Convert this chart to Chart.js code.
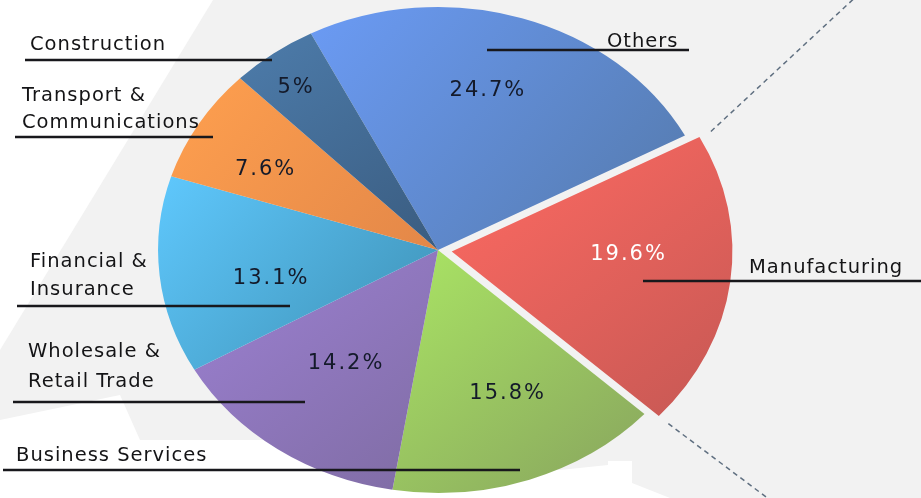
<!DOCTYPE html>
<html>
<head>
<meta charset="utf-8">
<script src="https://cdn.jsdelivr.net/npm/chart.js@4/dist/chart.umd.min.js"></script>
<style>
  html, body { margin: 0; padding: 0; background: #f2f2f2; }
  #wrap { width: 921px; height: 498px; }
</style>
</head>
<body>
<div id="wrap"><canvas id="c" width="921" height="498"></canvas></div>
<script>
// ---- data ----
const categories = ["Others", "Manufacturing", "Business Services", "Wholesale & Retail Trade",
                    "Financial & Insurance", "Transport & Communications", "Construction"];
const shares = [24.7, 19.6, 15.8, 14.2, 13.1, 7.6, 5];

// ---- styles ----
const lightColors = ['#6b9bf5', '#ff6a62', '#aae564', '#9d81d4', '#5fc8fd', '#ffa04f', '#4d7cab'];
const darkColors  = ['#5479aa', '#c25753', '#88a45e', '#7f6ca3', '#3d8fb2', '#e38748', '#3a5c80'];
const explode     = [0, 48, 0, 0, 0, 0, 0];
const pctFactor   = [0.69, 0.60, 0.63, 0.58, 0.61, 0.70, 0.85];
const pctNudge    = [[-8, 0], [2, -16], [12, -1], [1, -2], [3, 13], [-5, 8], [-2, 5]];
const pctColor    = ['#141a2a', '#ffffff', '#141a2a', '#141a2a', '#141a2a', '#141a2a', '#141a2a'];
// category label placement: text x, baseline of each line, underline x1, x2, y
const labelLayout = [
  {x: 607, base: [47],       ux1: 487, ux2: 689, uy: 50},
  {x: 749, base: [273],      ux1: 643, ux2: 921, uy: 281},
  {x: 16,  base: [461],      ux1: 3,   ux2: 520, uy: 470},
  {x: 28,  base: [357, 387], ux1: 13,  ux2: 305, uy: 402},
  {x: 30,  base: [267, 295], ux1: 17,  ux2: 290, uy: 306},
  {x: 22,  base: [101, 128], ux1: 15,  ux2: 213, uy: 137},
  {x: 30,  base: [50],       ux1: 25,  ux2: 272, uy: 60}
];
const STRETCH = 1.152;

function arcGeom(arc, i) {
  const p = arc.getProps(['x', 'y', 'startAngle', 'endAngle', 'outerRadius'], true);
  const t = (explode[i] || 0) / 4;
  const mid = (p.startAngle + p.endAngle) / 2;
  return {cx: p.x + Math.cos(mid) * t, cy: p.y + Math.sin(mid) * t, R: p.outerRadius + t,
          s: p.startAngle, e: p.endAngle, mid, x0: p.x};
}
function toScreen(x, y, x0) { return [x0 + (x - x0) * STRETCH, y]; }

const bgPlugin = {
  id: 'bg',
  beforeDraw(chart) {
    const ctx = chart.ctx;
    ctx.save();
    ctx.fillStyle = '#f2f2f2';
    ctx.fillRect(0, 0, chart.width, chart.height);
    ctx.fillStyle = '#ffffff';
    const polys = [
      [[0, 0], [213, 0], [0, 350]],
      [[0, 420], [120, 395], [140, 440], [300, 440], [560, 470], [608, 465], [608, 461], [632, 461], [632, 483], [670, 498], [0, 498]]
    ];
    polys.forEach(poly => {
      ctx.beginPath();
      poly.forEach((pt, k) => k ? ctx.lineTo(pt[0], pt[1]) : ctx.moveTo(pt[0], pt[1]));
      ctx.closePath();
      ctx.fill();
    });
    ctx.restore();
  }
};

const stretchPlugin = {
  id: 'stretch',
  beforeDatasetsDraw(chart) {
    const ctx = chart.ctx;
    const meta = chart.getDatasetMeta(0);
    meta.data.forEach((arc, i) => {
      const g = arcGeom(arc, i);
      const xs = [g.cx], ys = [g.cy];
      for (let k = 0; k <= 24; k++) {
        const a = g.s + (g.e - g.s) * k / 24;
        xs.push(g.cx + Math.cos(a) * g.R); ys.push(g.cy + Math.sin(a) * g.R);
      }
      const grad = ctx.createLinearGradient(Math.min(...xs), Math.min(...ys), Math.max(...xs), Math.max(...ys));
      grad.addColorStop(0, lightColors[i]);
      grad.addColorStop(1, darkColors[i]);
      arc.options.backgroundColor = grad;
    });
    const x0 = meta.data[0].x;
    ctx.save();
    ctx.translate(x0, 0); ctx.scale(STRETCH, 1); ctx.translate(-x0, 0);
  },
  afterDatasetsDraw(chart) {
    chart.ctx.restore();
  }
};

const labelPlugin = {
  id: 'labels',
  afterDraw(chart) {
    const ctx = chart.ctx;
    const meta = chart.getDatasetMeta(0);
    ctx.save();
    // dashed connector lines from exploded slice
    meta.data.forEach((arc, i) => {
      if (!explode[i]) return;
      const g = arcGeom(arc, i);
      const c1 = toScreen(g.cx + Math.cos(g.s) * g.R, g.cy + Math.sin(g.s) * g.R, g.x0);
      const c2 = toScreen(g.cx + Math.cos(g.e) * g.R, g.cy + Math.sin(g.e) * g.R, g.x0);
      ctx.strokeStyle = '#5f6f80';
      ctx.lineWidth = 1.5;
      ctx.setLineDash([5, 4]);
      ctx.beginPath();
      ctx.moveTo(c1[0], c1[1]); ctx.lineTo(c1[0] + 141 * 1.2, c1[1] - 131 * 1.2);
      ctx.moveTo(c2[0], c2[1]); ctx.lineTo(c2[0] + 112 * 1.2, c2[1] + 84 * 1.2);
      ctx.stroke();
      ctx.setLineDash([]);
    });
    // percentage labels
    ctx.font = '21px "DejaVu Sans"';
    ctx.letterSpacing = '2px';
    ctx.textAlign = 'center';
    ctx.textBaseline = 'middle';
    meta.data.forEach((arc, i) => {
      const g = arcGeom(arc, i);
      const r = g.R * pctFactor[i];
      const p = toScreen(g.cx + Math.cos(g.mid) * r, g.cy + Math.sin(g.mid) * r, g.x0);
      ctx.fillStyle = pctColor[i];
      ctx.fillText(shares[i] + '%', p[0] + pctNudge[i][0], p[1] + pctNudge[i][1]);
    });
    // category labels with underlines
    ctx.font = '19.5px "DejaVu Sans"';
    ctx.letterSpacing = '1px';
    ctx.textAlign = 'left';
    ctx.textBaseline = 'alphabetic';
    categories.forEach((name, i) => {
      const L = labelLayout[i];
      const lines = name.split(/(?<=&) /);
      ctx.fillStyle = '#141416';
      lines.forEach((ln, k) => ctx.fillText(ln, L.x, L.base[k]));
      ctx.strokeStyle = '#18181c';
      ctx.lineWidth = 2.5;
      ctx.beginPath();
      ctx.moveTo(L.ux1, L.uy); ctx.lineTo(L.ux2, L.uy);
      ctx.stroke();
    });
    ctx.restore();
  }
};

new Chart(document.getElementById('c'), {
  type: 'pie',
  data: {
    labels: categories,
    datasets: [{
      data: shares,
      backgroundColor: lightColors,
      borderWidth: 0,
      offset: explode,
      rotation: -27,
      radius: 243
    }]
  },
  options: {
    responsive: false,
    animation: false,
    layout: {padding: {left: 0, right: 45, top: 2, bottom: 0}},
    plugins: {legend: {display: false}, tooltip: {enabled: false}}
  },
  plugins: [bgPlugin, stretchPlugin, labelPlugin]
});
</script>
</body>
</html>
